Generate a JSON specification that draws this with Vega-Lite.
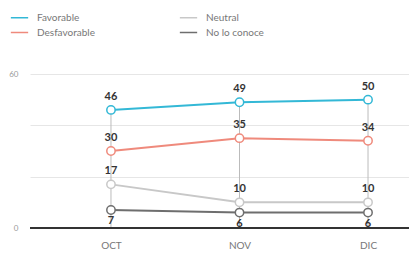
{
  "$schema": "https://vega.github.io/schema/vega-lite/v6.json",
  "autosize": "none",
  "width": 419,
  "height": 154,
  "padding": {"left": 30, "top": 74, "right": 0, "bottom": 26},
  "config": {
    "font": "Lato",
    "view": {"stroke": null},
    "background": "white"
  },
  "data": {
    "values": [
      {"mes": "OCT", "serie": "Favorable", "valor": 46},
      {"mes": "NOV", "serie": "Favorable", "valor": 49},
      {"mes": "DIC", "serie": "Favorable", "valor": 50},
      {"mes": "OCT", "serie": "Desfavorable", "valor": 30},
      {"mes": "NOV", "serie": "Desfavorable", "valor": 35},
      {"mes": "DIC", "serie": "Desfavorable", "valor": 34},
      {"mes": "OCT", "serie": "Neutral", "valor": 17},
      {"mes": "NOV", "serie": "Neutral", "valor": 10},
      {"mes": "DIC", "serie": "Neutral", "valor": 10},
      {"mes": "OCT", "serie": "No lo conoce", "valor": 7},
      {"mes": "NOV", "serie": "No lo conoce", "valor": 6},
      {"mes": "DIC", "serie": "No lo conoce", "valor": 6}
    ]
  },
  "encoding": {
    "x": {
      "field": "mes", "type": "ordinal", "sort": ["OCT", "NOV", "DIC"],
      "scale": {"type": "point", "padding": 0.63},
      "axis": {"title": null, "domain": false, "ticks": false, "labelAngle": 0, "labelPadding": 12, "labelColor": "#777", "labelFontSize": 10, "labelFontWeight": "normal", "grid": false}
    },
    "y": {
      "field": "valor", "type": "quantitative",
      "scale": {"domain": [0, 60], "nice": false},
      "axis": {"title": null, "domain": false, "ticks": false, "values": [0, 20, 40, 60], "labelExpr": "datum.value == 0 || datum.value == 60 ? datum.label : ''", "labelPadding": 12, "labelColor": "#999", "labelFontSize": 8, "gridColor": "#e6e6e6", "gridWidth": 1}
    }
  },
  "layer": [
    {
      "mark": {"type": "rule", "color": "#bbbbbb", "strokeWidth": 1},
      "encoding": {
        "y": {"aggregate": "max", "field": "valor", "type": "quantitative"},
        "y2": {"datum": 0}
      }
    },
    {
      "mark": {"type": "rule", "color": "#333333", "strokeWidth": 2},
      "encoding": {"y": {"datum": 0}, "x": {"value": 0}, "x2": {"value": 419}}
    },
    {
      "mark": {"type": "line", "strokeWidth": 2},
      "encoding": {
        "color": {
          "field": "serie", "type": "nominal",
          "scale": {"domain": ["Favorable", "Desfavorable", "Neutral", "No lo conoce"], "range": ["#33b8d6", "#ef8a7c", "#c8c8c8", "#6e6e6e"]},
          "legend": {
            "title": null, "orient": "none", "legendX": -20, "legendY": -66, "columns": 2, "columnPadding": 81, "rowPadding": -6,
            "symbolType": "stroke", "symbolSize": 300, "symbolStrokeWidth": 1.5, "labelColor": "#777", "labelFontSize": 10, "labelOffset": 8
          }
        }
      }
    },
    {
      "mark": {"type": "point", "filled": true, "fill": "white", "size": 70, "strokeWidth": 1.5, "opacity": 1},
      "encoding": {
        "stroke": {"field": "serie", "type": "nominal", "scale": {"domain": ["Favorable", "Desfavorable", "Neutral", "No lo conoce"], "range": ["#33b8d6", "#ef8a7c", "#c8c8c8", "#6e6e6e"]}, "legend": null}
      }
    },
    {
      "transform": [{"filter": "datum.serie != 'No lo conoce'"}],
      "mark": {"type": "text", "dy": -13, "fontWeight": "bold", "fontSize": 11, "color": "#333"},
      "encoding": {"text": {"field": "valor", "type": "quantitative"}}
    },
    {
      "transform": [{"filter": "datum.serie == 'No lo conoce'"}],
      "mark": {"type": "text", "dy": 11, "fontWeight": "bold", "fontSize": 11, "color": "#333"},
      "encoding": {"text": {"field": "valor", "type": "quantitative"}}
    }
  ]
}
